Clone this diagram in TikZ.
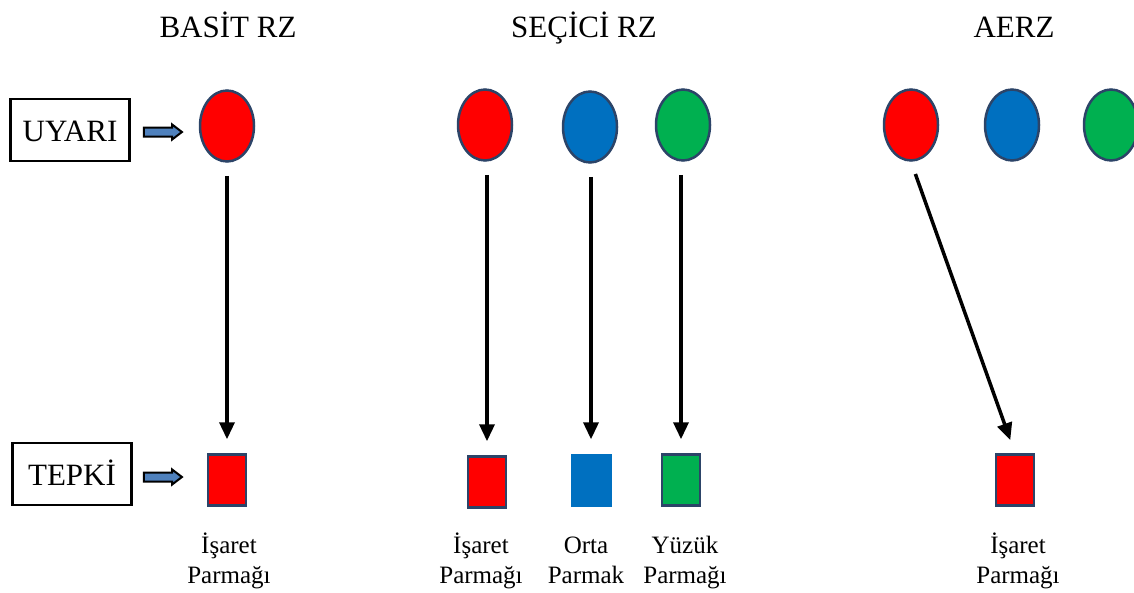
\documentclass[tikz,border=0pt]{standalone}
\usepackage{fontspec}
\setmainfont{Liberation Serif}
\usetikzlibrary{arrows.meta,shapes.geometric,shapes.arrows}
\definecolor{cred}{RGB}{255,0,0}
\definecolor{cblue}{RGB}{0,112,192}
\definecolor{cgreen}{RGB}{0,176,80}
\definecolor{cedge}{RGB}{44,68,104}
\definecolor{carrow}{RGB}{79,129,189}
\tikzset{
  stim/.style={ellipse, draw=cedge, line width=2.5pt, minimum width=54pt, minimum height=71pt, inner sep=0pt},
  resp/.style={rectangle, draw=cedge, line width=2.5pt, minimum width=38pt, minimum height=51pt, inner sep=0pt},
  respnb/.style={rectangle, minimum width=41pt, minimum height=53pt, inner sep=0pt},
  conn/.style={line width=3.5pt, -{Triangle[width=15pt,length=17pt]}, shorten <=13pt, shorten >=14pt},
  title/.style={font=\fontsize{31}{37}\selectfont, anchor=base},
  lbl/.style={font=\fontsize{25}{30}\selectfont, align=center, anchor=base},
  sidebox/.style={rectangle, draw=black, line width=2.2pt, minimum width=119pt, minimum height=62pt, inner sep=0pt, font=\fontsize{31}{37}\selectfont, text height=22pt, text depth=0pt},
  blk/.style={single arrow, draw=black, fill=carrow, line width=2pt, minimum height=38pt, minimum width=14pt, inner xsep=0pt, inner ysep=3.5pt, single arrow head extend=3pt, single arrow tip angle=75}
}
\begin{document}
\begin{tikzpicture}[x=1pt,y=-1pt]
\useasboundingbox (0,0) rectangle (1134,592);
% titles
\node[title] (t1) at (228,37) {BASİT RZ};
\node[title] (t2) at (584,37) {SEÇİCİ RZ};
\node[title] (t3) at (1014,37) {AERZ};
% side boxes
\node[sidebox] (uyari) at (70,130) {UYARI};
\node[sidebox] (tepki) at (72,474) {TEPKİ};
\node[blk] (a1) at (160,132) {};
\node[blk] (a2) at (160,477) {};
% BASIT
\node[stim, fill=cred] (b1) at (227,126) {};
\node[resp, fill=cred] (bs1) at (227,480) {};
\draw[conn] (b1) -- (bs1);
\node[lbl] (bl1) at (229,583) {İşaret\\Parmağı};
% SECICI
\node[stim, fill=cred] (s1) at (485,125) {};
\node[stim, fill=cblue] (s2) at (590,127) {};
\node[stim, fill=cgreen] (s3) at (683,125) {};
\node[resp, fill=cred] (ss1) at (487,482) {};
\node[respnb, fill=cblue] (ss2) at (591,480) {};
\node[resp, fill=cgreen] (ss3) at (681,480) {};
\draw[conn] (s1.south -| ss1.north) -- (ss1.north);
\draw[conn] (s2.south -| ss2.north) -- (ss2.north);
\draw[conn] (s3.south -| ss3.north) -- (ss3.north);
\node[lbl] (sl1) at (481,583) {İşaret\\Parmağı};
\node[lbl] (sl2) at (586,583) {Orta\\Parmak};
\node[lbl] (sl3) at (685,583) {Yüzük\\Parmağı};
% AERZ
\node[stim, fill=cred] (e1) at (911,125) {};
\node[stim, fill=cblue] (e2) at (1012,125) {};
\node[stim, fill=cgreen] (e3) at (1111,125) {};
\node[resp, fill=cred] (es1) at (1015,480) {};
\draw[conn] (e1.south) -- (es1.north);
\node[lbl] (el1) at (1018,583) {İşaret\\Parmağı};
\end{tikzpicture}
\end{document}
